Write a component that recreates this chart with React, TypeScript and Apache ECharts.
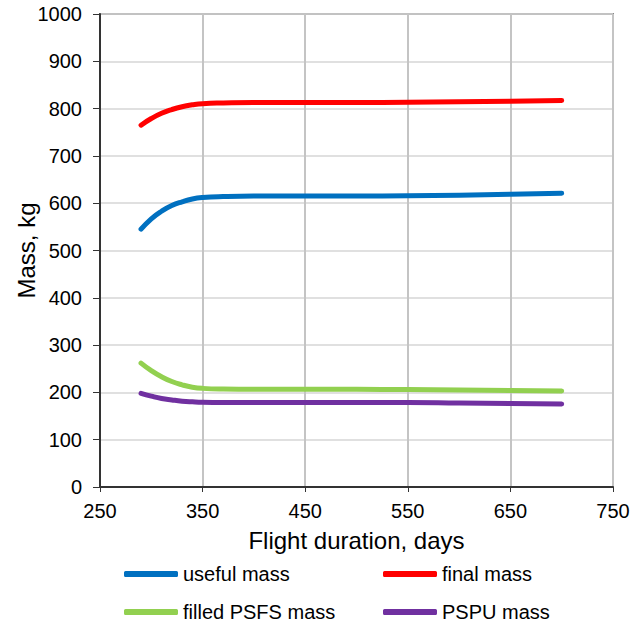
import React, { useEffect, useRef } from "react";
import * as echarts from "echarts";

const days = [290, 300, 310, 320, 330, 340, 350, 370, 400, 450, 500, 550, 600, 650, 700];
const usefulMass = [545, 567, 583, 595, 603, 609, 612, 614, 615, 615, 615, 615.5, 617, 619, 621];
const finalMass = [765, 779, 790, 798, 804, 808, 810.5, 812, 813, 813, 813, 813.5, 814.5, 815.5, 817];
const filledPsfsMass = [262, 246, 233, 223, 216, 211, 208.5, 207, 206.5, 206.5, 206.5, 206, 205, 204, 203];
const pspuMass = [198, 192, 187, 184, 181.5, 180, 179, 178.5, 178.5, 178.5, 178.5, 178.5, 177.5, 176.5, 175.5];

const seriesNames = ["useful mass", "final mass", "filled PSFS mass", "PSPU mass"];
const seriesColors = ["#0070C0", "#FF0000", "#92D050", "#7030A0"];
const seriesValues = [usefulMass, finalMass, filledPsfsMass, pspuMass];

const FONT = "'Liberation Sans', Arial, sans-serif";

export default function App() {
  const ref = useRef<HTMLDivElement>(null);
  useEffect(() => {
    document.body.style.margin = "0";
    if (!ref.current) return;
    const chart = echarts.init(ref.current, null, { renderer: "svg" });
    const legendPos = [
      { left: 124, top: 564 },
      { left: 383, top: 564 },
      { left: 124, top: 602 },
      { left: 383, top: 602 },
    ];
    chart.setOption({
      animation: false,
      textStyle: { fontFamily: FONT },
      grid: {
        left: 100,
        right: 31,
        top: 14,
        bottom: 138,
        containLabel: false,
        outerBoundsMode: "none",
        show: true,
        borderColor: "#888888",
        borderWidth: 2,
      },
      legend: seriesNames.map((n, i) => ({
        data: [n],
        left: legendPos[i].left,
        top: legendPos[i].top,
        padding: 0,
        icon: "roundRect",
        itemWidth: 54,
        itemHeight: 6,
        itemGap: 0,
        textStyle: { fontFamily: FONT, fontSize: 20, color: "#000" },
      })),
      xAxis: {
        type: "value",
        min: 250,
        max: 750,
        interval: 100,
        name: "Flight duration, days",
        nameLocation: "middle",
        nameGap: 41,
        nameMoveOverlap: false,
        nameTextStyle: { fontFamily: FONT, fontSize: 24, color: "#000" },
        axisLine: { show: true, onZero: false, lineStyle: { color: "#333", width: 2 } },
        axisTick: { show: true, length: 5, lineStyle: { color: "#333", width: 1 } },
        axisLabel: {
          fontFamily: FONT,
          fontSize: 20,
          color: "#000",
          margin: 14,
          formatter: (v: number) => String(v),
        },
        splitLine: { show: true, lineStyle: { color: "#c4c4c4", width: 2 } },
      },
      yAxis: {
        type: "value",
        min: 0,
        max: 1000,
        interval: 100,
        name: "Mass, kg",
        nameLocation: "middle",
        nameGap: 62,
        nameMoveOverlap: false,
        nameTextStyle: { fontFamily: FONT, fontSize: 24, color: "#000" },
        axisLine: { show: true, lineStyle: { color: "#333", width: 2 } },
        axisTick: { show: true, length: 7, lineStyle: { color: "#333", width: 1 } },
        axisLabel: {
          fontFamily: FONT,
          fontSize: 20,
          color: "#000",
          margin: 18,
          formatter: (v: number) => String(v),
        },
        splitLine: { show: true, lineStyle: { color: "#d6d6d6", width: 1.5 } },
      },
      series: seriesNames.map((n, i) => ({
        name: n,
        type: "line",
        smooth: true,
        symbol: "none",
        color: seriesColors[i],
        lineStyle: { width: 5, color: seriesColors[i], cap: "round", join: "round" },
        data: days.map((d, j) => [d, seriesValues[i][j]]),
      })),
    });
    return () => chart.dispose();
  }, []);
  return <div ref={ref} style={{ width: 644, height: 625 }} />;
}
